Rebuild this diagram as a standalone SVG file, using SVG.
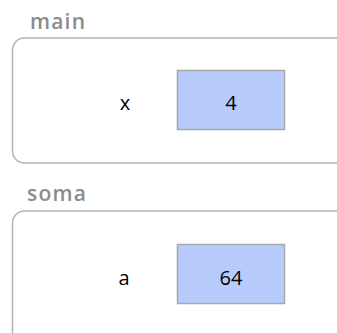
<svg xmlns="http://www.w3.org/2000/svg" width="337" height="333" viewBox="0 0 337 333">
<style>
.frame{fill:#fff;stroke:#b3b3b3;stroke-width:1.5}
.flabel{font-family:"Open Sans","DejaVu Sans",sans-serif;font-size:21px;font-weight:600;letter-spacing:1.2px;fill:#8c8c8c}
.box{fill:#b8cbfd;stroke:#a8a8a8;stroke-width:1.5}
.t{font-family:"Open Sans","DejaVu Sans",sans-serif;font-size:20px;fill:#000;text-anchor:middle}
</style>
<rect width="337" height="333" fill="#fff"/>
<g id="main">
<text class="flabel" x="30" y="29">main</text>
<rect class="frame" x="12.5" y="38" width="336" height="125" rx="12"/>
<text class="t" x="125" y="110">x</text>
<rect class="box" x="177.5" y="70.5" width="107" height="59"/>
<text class="t" x="231" y="110">4</text>
</g>
<g id="soma">
<text class="flabel" x="27" y="201">soma</text>
<rect class="frame" x="12.5" y="211" width="336" height="135" rx="12"/>
<text class="t" x="124" y="285">a</text>
<rect class="box" x="177.5" y="244.5" width="107" height="59"/>
<text class="t" x="231" y="285">64</text>
</g>
<g id="connectors"/>
</svg>
